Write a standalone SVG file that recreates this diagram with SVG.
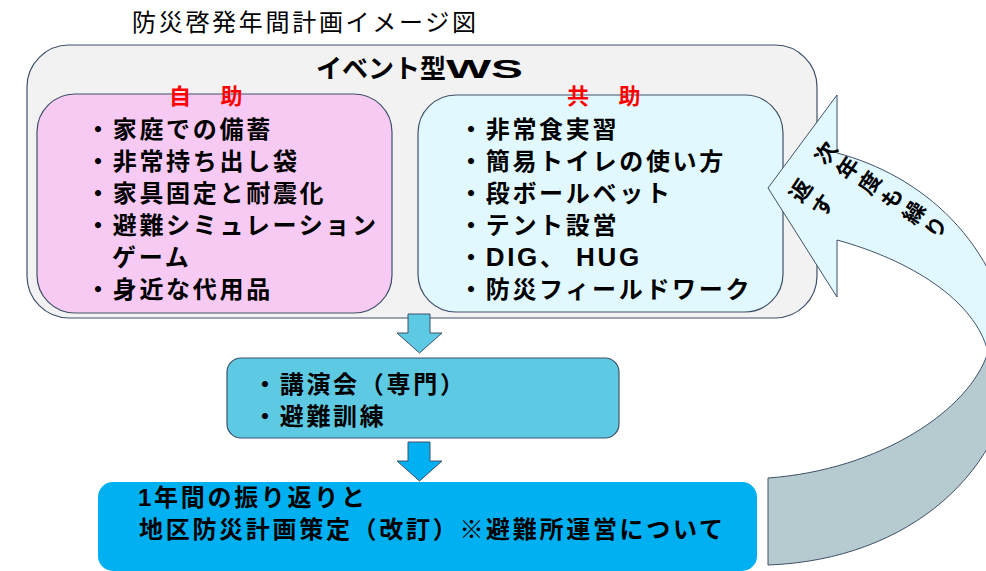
<svg xmlns="http://www.w3.org/2000/svg" width="986" height="571" viewBox="0 0 986 571">
<style>
  text { font-family: "Liberation Sans", "Noto Sans CJK JP", sans-serif; fill: #000; }
  .title { font-size: 24px; font-weight: 400; letter-spacing: 2.7px; }
  .head { font-size: 26px; font-weight: 700; }
  .red { font-size: 22px; font-weight: 700; fill: #ff0000; letter-spacing: 3.8px; }
  .item { font-size: 24px; font-weight: 700; letter-spacing: 2.7px; }
  .lat { font-size: 26px; }
  .arr { font-size: 22px; font-weight: 700; letter-spacing: 4.6px; writing-mode: vertical-rl; }
  .box { stroke: #3f5068; stroke-width: 1.2; }
  .conn { stroke: #3f5068; stroke-width: 1; stroke-linejoin: miter; }
</style>

<g id="title">
  <text class="title" x="132" y="31">防災啓発年間計画イメージ図</text>
</g>

<g id="event-ws">
  <rect class="box" x="27" y="45" width="790" height="273" rx="42" ry="42" fill="#f2f2f2"/>
  <text class="head" x="316" y="78">イベント型<tspan textLength="77" lengthAdjust="spacingAndGlyphs">WS</tspan></text>
</g>

<g id="jijo">
  <rect class="box" x="37" y="94" width="355" height="219" rx="38" ry="38" fill="#f6caf3"/>
  <text class="red" x="169" y="104">自　助</text>
  <text class="item" x="86" y="138">・家庭での備蓄</text>
  <text class="item" x="86" y="170">・非常持ち出し袋</text>
  <text class="item" x="86" y="202">・家具固定と耐震化</text>
  <text class="item" x="86" y="234">・避難シミュレーション</text>
  <text class="item" x="112" y="266">ゲーム</text>
  <text class="item" x="86" y="298">・身近な代用品</text>
</g>

<g id="kyojo">
  <rect class="box" x="418" y="95" width="365" height="217" rx="38" ry="38" fill="#e1f9fe"/>
  <text class="red" x="567" y="104">共　助</text>
  <text class="item" x="459" y="138">・非常食実習</text>
  <text class="item" x="459" y="170">・簡易トイレの使い方</text>
  <text class="item" x="459" y="202">・段ボールベット</text>
  <text class="item" x="459" y="234">・テント設営</text>
  <text class="item" x="459" y="266">・<tspan class="lat">DIG</tspan>、 <tspan class="lat">HUG</tspan></text>
  <text class="item" x="459" y="298">・防災フィールドワーク</text>
</g>

<g id="lecture">
  <rect class="box" x="227" y="358" width="392" height="80" rx="14" ry="14" fill="#5dc9e2"/>
  <text class="item" x="253" y="393">・講演会（専門）</text>
  <text class="item" x="253" y="425">・避難訓練</text>
</g>

<g id="review">
  <rect x="98" y="482" width="659" height="89" rx="15" ry="15" fill="#00b0f0"/>
  <text class="item" x="138" y="506">1年間の振り返りと</text>
  <text class="item" x="139" y="538">地区防災計画策定（改訂）※避難所運営について</text>
</g>

<g id="connectors">
  <polygon class="conn" points="408,314 430,314 430,333 442,333 419.5,353 397,333 408,333" fill="#5dc9e2"/>
  <polygon class="conn" points="408,442 430,442 430,461 442,461 419.5,481 397,461 408,461" fill="#00b0f0"/>
  <path class="conn" d="M768,478 C880,470 970,410 988,352 L1015,355 C1010,470 910,560 768,565 Z" fill="#b6cbcf"/>
  <path class="conn" d="M768,188 L837,95 L837,153 C920,175 1000,240 1015,355 L988,352 C975,300 910,260 837,240 L837,297 Z" fill="#e1f9fe"/>
  <g transform="translate(824,155) rotate(-56)">
    <text class="arr"><tspan x="0" y="-11">次年度も繰り</tspan><tspan x="-45" y="-11">返す</tspan></text>
  </g>
</g>
</svg>
